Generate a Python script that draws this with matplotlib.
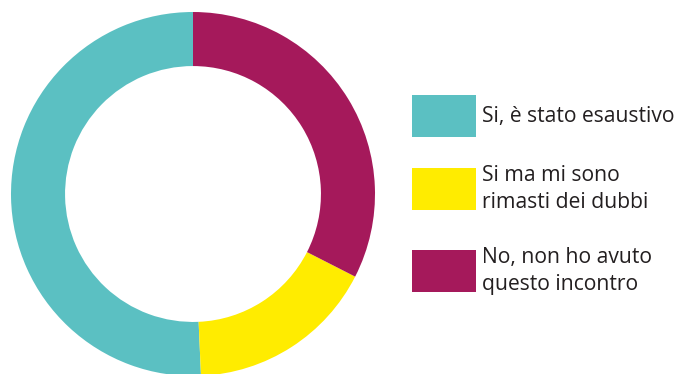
import matplotlib
matplotlib.use("Agg")
import matplotlib.pyplot as plt
from matplotlib.patches import Rectangle

categories = ["Si, è stato esaustivo", "Si ma mi sono\nrimasti dei dubbi", "No, non ho avuto\nquesto incontro"]
values = [50.7, 16.8, 32.5]
colors = ["#5BC0C2", "#FFEC00", "#A5195B"]

W, H = 679, 374
fig = plt.figure(figsize=(W / 100, H / 100), dpi=100)
fig.patch.set_facecolor("white")

cx, cy, R = 193, 374 - 194, 182
ax = fig.add_axes([(cx - R) / W, (cy - R) / H, 2 * R / W, 2 * R / H])
ax.pie(values, colors=colors, startangle=90, counterclock=True, radius=1.0,
       wedgeprops=dict(width=0.297, edgecolor="none"))
ax.set_xlim(-1, 1)
ax.set_ylim(-1, 1)
ax.set_aspect("equal")
ax.axis("off")

# legend in pixel coordinates
lax = fig.add_axes([0, 0, 1, 1])
lax.set_xlim(0, W)
lax.set_ylim(H, 0)
lax.axis("off")
tops = [95, 168, 250]
for cat, col, top in zip(categories, colors, tops):
    lax.add_patch(Rectangle((412, top), 64, 42, facecolor=col, edgecolor="none"))
    lax.text(482, top + 21, cat, ha="left", va="center", fontsize=15.2,
             family="Open Sans", color="#231F20", linespacing=1.4)

fig.savefig("out.png", dpi=100)
